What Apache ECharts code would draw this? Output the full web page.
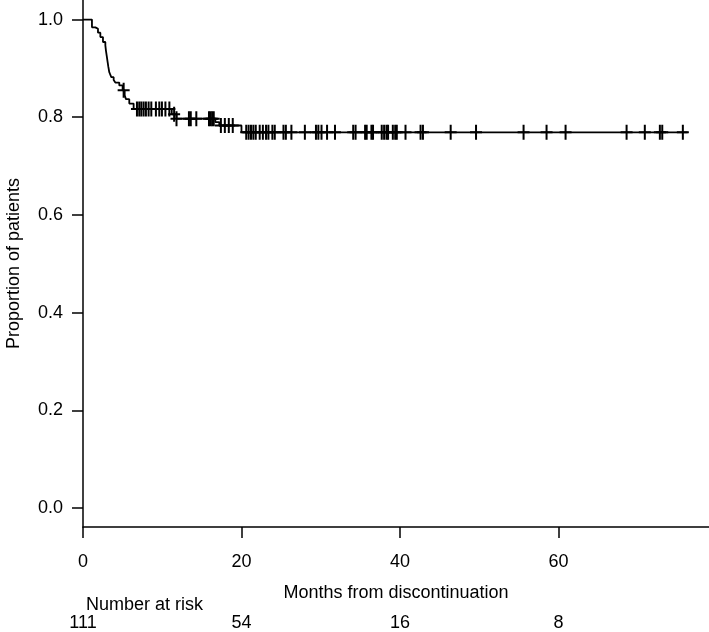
<!DOCTYPE html>
<html>
<head>
<meta charset="utf-8">
<script src="https://cdn.jsdelivr.net/npm/echarts@6/dist/echarts.min.js"></script>
<style>
html,body{margin:0;padding:0;background:#fff;}
#chart{width:709px;height:632px;}
</style>
</head>
<body>
<div id="chart"></div>
<script>
// Kaplan-Meier step function (months, proportion)
var stepTimes = [0, 1.13, 1.56, 1.89, 2.19, 2.52, 2.82, 2.9, 3.0, 3.1, 3.2, 3.32, 3.57, 3.87, 4.08, 4.58, 5.0, 5.26, 5.42, 5.84, 6.39, 11.2, 11.8, 16.7, 17.2, 20.0, 76.3];
var stepValues = [1.0, 0.984, 0.981, 0.973, 0.964, 0.954, 0.947, 0.936, 0.925, 0.914, 0.903, 0.892, 0.882, 0.876, 0.871, 0.865, 0.855, 0.845, 0.837, 0.828, 0.817, 0.806, 0.797, 0.79, 0.783, 0.769, 0.769];
// censoring times (months)
var censorTimes = [5.13, 6.81, 7.1, 7.36, 7.65, 7.94, 8.28, 8.62, 9.2, 9.63, 9.96, 10.4, 10.9, 11.5, 11.8,
  13.37, 13.6, 14.3, 15.9, 16.1, 16.3, 16.5, 17.4, 17.9, 18.4, 18.9,
  20.6, 20.9, 21.2, 21.5, 21.8, 22.3, 22.7, 23.1, 23.4, 23.9, 24.2, 25.3, 25.6, 26.3, 28.0,
  29.4, 29.7, 30.1, 30.8, 31.8, 34.1, 34.4, 35.6, 35.8, 36.4, 36.6, 37.7, 38.0, 38.3, 38.5,
  39.1, 39.4, 39.6, 40.7, 42.6, 42.9, 46.4, 49.6, 55.6, 58.5, 60.9, 68.6, 70.9, 72.8, 73.1, 75.7];
var xTicks = [0, 20, 40, 60];
var yTicks = [0, 0.2, 0.4, 0.6, 0.8, 1.0];
var riskTimes = [0, 20, 40, 60];
var riskCounts = [111, 54, 16, 8];

function survAt(t) {
  var v = stepValues[0];
  for (var i = 0; i < stepTimes.length; i++) {
    if (stepTimes[i] <= t) v = stepValues[i];
  }
  return v;
}

var curveData = stepTimes.map(function (t, i) { return [t, stepValues[i]]; });
var censorData = censorTimes.map(function (t) { return [t, survAt(t)]; });

var FONT = '"Liberation Sans", Arial, Helvetica, sans-serif';
var FS = 18;
var plusPath = 'path://M5,0 h2 v6.5 h5 v2 h-5 v6.5 h-2 v-6.5 h-5 v-2 h5 z';

var chart = echarts.init(document.getElementById('chart'), null, {renderer: 'canvas'});
chart.setOption({
  animation: false,
  backgroundColor: '#fff',
  textStyle: {fontFamily: FONT},
  grid: [
    {left: 83, right: 0, top: 0, bottom: 105, containLabel: false, outerBoundsMode: 'none'},
    {left: 83, right: 0, top: 610, height: 26, containLabel: false, outerBoundsMode: 'none'}
  ],
  xAxis: [{
    type: 'value', gridIndex: 0, min: 0, max: 79,
    axisLine: {show: true, onZero: false, lineStyle: {color: '#000', width: 1.5}},
    axisTick: {show: true, length: 11, customValues: xTicks, lineStyle: {color: '#000', width: 1.5}},
    axisLabel: {customValues: xTicks, margin: 26, fontSize: FS, color: '#000', fontFamily: FONT},
    splitLine: {show: false},
    name: 'Months from discontinuation', nameLocation: 'middle', nameGap: 57,
    nameTextStyle: {fontSize: FS, color: '#000', fontFamily: FONT}
  }, {
    type: 'value', gridIndex: 1, min: 0, max: 79, show: false
  }],
  yAxis: [{
    type: 'value', gridIndex: 0, min: -0.039, max: 1.04,
    axisLine: {show: true, onZero: false, lineStyle: {color: '#000', width: 1.5}},
    axisTick: {show: true, length: 11, customValues: yTicks, lineStyle: {color: '#000', width: 1.5}},
    axisLabel: {customValues: yTicks, margin: 20, fontSize: FS, color: '#000', fontFamily: FONT,
      formatter: function (v) { return Number(v).toFixed(1); }},
    splitLine: {show: false},
    name: 'Proportion of patients', nameLocation: 'middle', nameGap: 60,
    nameTextStyle: {fontSize: FS, color: '#000', fontFamily: FONT}
  }, {
    type: 'value', gridIndex: 1, min: 0, max: 1, show: false
  }],
  series: [{
    type: 'line', xAxisIndex: 0, yAxisIndex: 0, step: 'end', showSymbol: false,
    lineStyle: {color: '#000', width: 1.8}, data: curveData, silent: true
  }, {
    type: 'scatter', xAxisIndex: 0, yAxisIndex: 0, symbol: plusPath, symbolSize: [12, 15],
    itemStyle: {color: '#000', opacity: 1}, data: censorData, silent: true
  }]
});

// Number-at-risk row, positioned through the axis scale of the second grid
var riskGraphics = riskTimes.map(function (t, i) {
  var p = chart.convertToPixel({xAxisIndex: 1, yAxisIndex: 1}, [t, 0.5]);
  return {
    type: 'text', x: p[0], y: p[1],
    style: {text: String(riskCounts[i]), fontSize: FS, fill: '#000', fontFamily: FONT,
      align: 'center', verticalAlign: 'middle'}
  };
});
riskGraphics.push({
  type: 'text', left: 86, top: 596,
  style: {text: 'Number at risk', fontSize: FS, fill: '#000', fontFamily: FONT}
});
chart.setOption({graphic: riskGraphics});
</script>
</body>
</html>
